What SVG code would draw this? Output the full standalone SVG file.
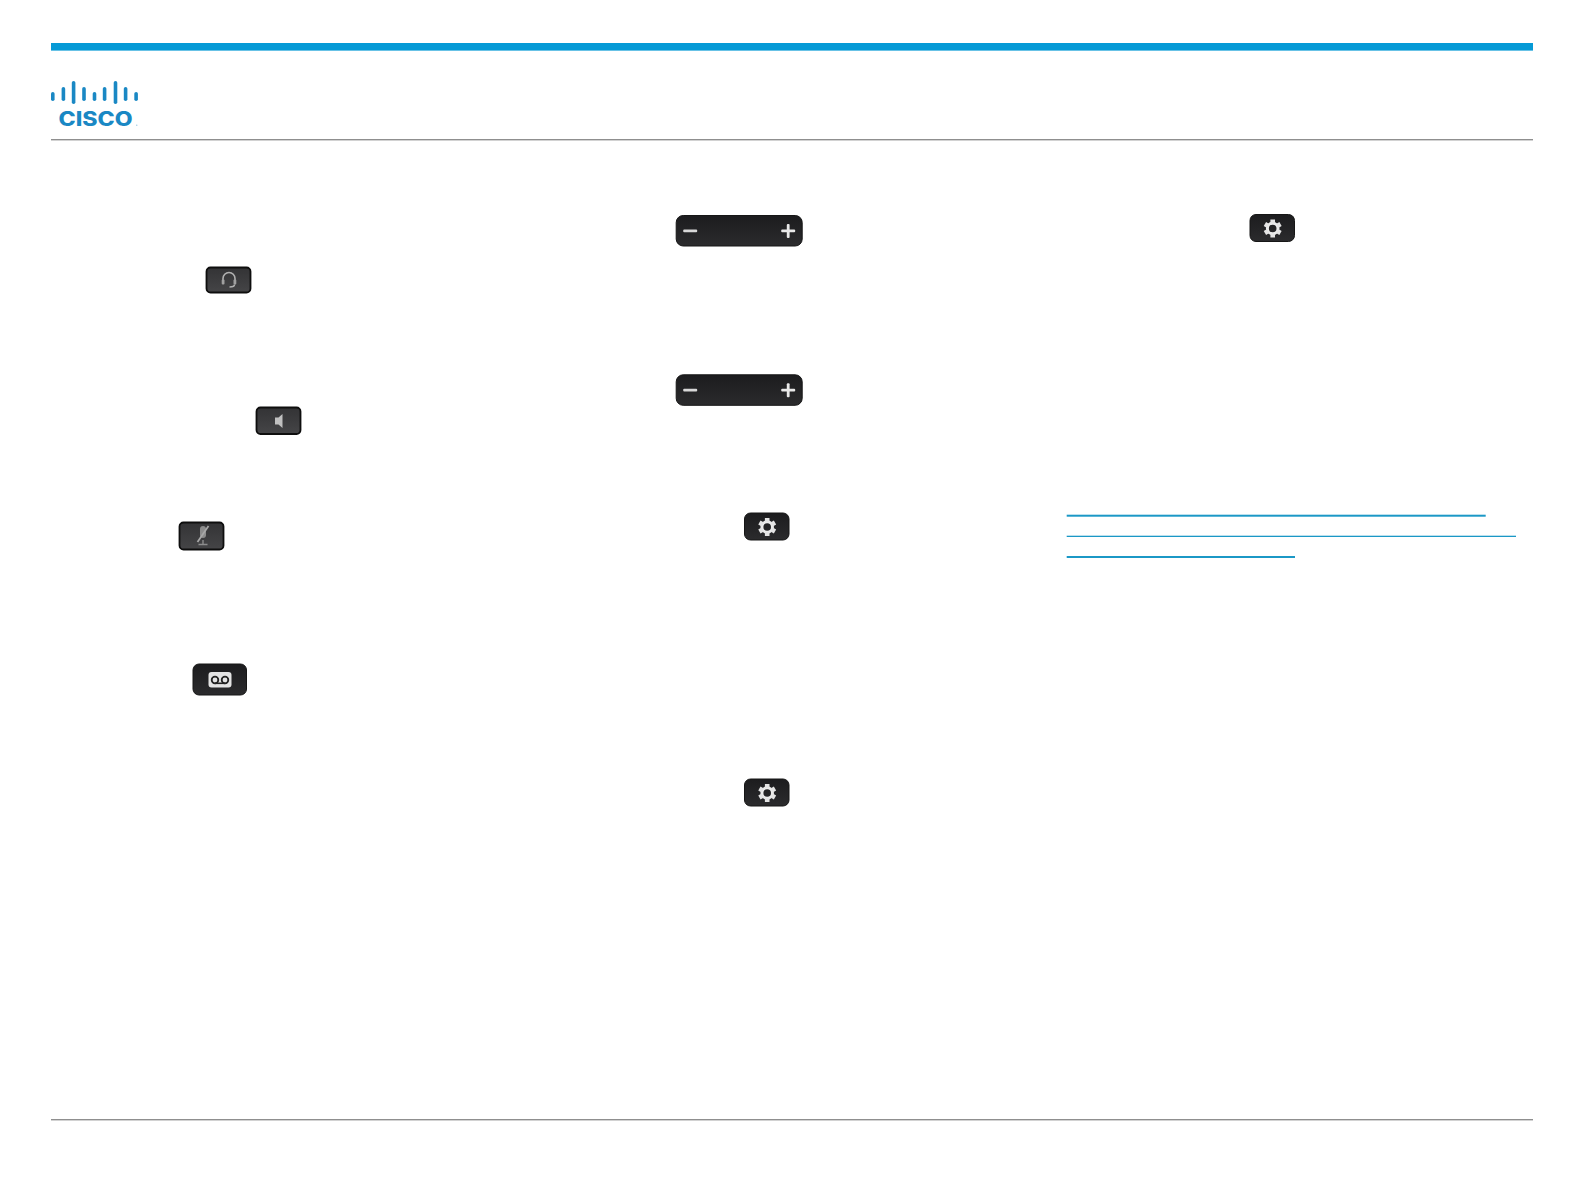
<svg xmlns="http://www.w3.org/2000/svg" width="1584" height="1191" viewBox="0 0 1584 1191">
<style>
.rule{fill:#8f8f8f}
.link{fill:#1b98c6}
.logo{fill:#1a88c4}
.key{fill:url(#keyfill);stroke:#0e0e0e;stroke-width:1.8}
.dark{fill:url(#darkfill);stroke:#161616;stroke-width:1}
.ico{fill:#e4e4e4}
.icog{fill:#a0a0a0}
.line{fill:none;stroke:#b0b0b0;stroke-width:1.6}
</style>
<defs>
<linearGradient id="keyfill" x1="0" y1="0" x2="0" y2="1">
<stop offset="0" stop-color="#333335"/><stop offset="1" stop-color="#454547"/>
</linearGradient>
<linearGradient id="darkfill" x1="0" y1="0" x2="0" y2="1">
<stop offset="0" stop-color="#1c1c1e"/><stop offset="1" stop-color="#2b2b2d"/>
</linearGradient>
<g id="gear">
<rect class="dark" x="0" y="0" width="44.500" height="27" rx="6"/>
<g transform="translate(22.700,14)">
<circle r="5.300" fill="none" stroke="#ececec" stroke-width="3"/>
<g class="ico">
<rect x="-2.300" y="-9" width="4.600" height="3.800"/>
<rect x="-2.300" y="-9" width="4.600" height="3.800" transform="rotate(60)"/>
<rect x="-2.300" y="-9" width="4.600" height="3.800" transform="rotate(120)"/>
<rect x="-2.300" y="-9" width="4.600" height="3.800" transform="rotate(180)"/>
<rect x="-2.300" y="-9" width="4.600" height="3.800" transform="rotate(240)"/>
<rect x="-2.300" y="-9" width="4.600" height="3.800" transform="rotate(300)"/>
</g>
</g>
</g>
<g id="vol">
<rect class="dark" x="0" y="0" width="126" height="30.500" rx="7"/>
<rect fill="#d8d8d8" x="7" y="14" width="14" height="2.800" rx="1"/>
<rect fill="#e8e8e8" x="105" y="14" width="14" height="2.800" rx="1"/>
<rect fill="#e8e8e8" x="110.600" y="8.400" width="2.800" height="14" rx="1"/>
</g>
</defs>
<g id="header">
<rect x="51" y="43" width="1482" height="7.600" fill="#069ad6"/>
<rect class="rule" x="51" y="139" width="1482" height="1.400"/>
</g>
<g id="logo" class="logo">
<rect x="51" y="92" width="3.600" height="9" rx="1.800"/>
<rect x="61.600" y="87" width="3.600" height="14" rx="1.800"/>
<rect x="71.800" y="81" width="3.600" height="23" rx="1.800"/>
<rect x="82.200" y="87" width="3.600" height="14" rx="1.800"/>
<rect x="92.700" y="92" width="3.600" height="9" rx="1.800"/>
<rect x="102.800" y="87" width="3.600" height="14" rx="1.800"/>
<rect x="113.700" y="81" width="3.600" height="23" rx="1.800"/>
<rect x="123.800" y="87" width="3.600" height="14" rx="1.800"/>
<rect x="134.300" y="92" width="3.600" height="9" rx="1.800"/>
<text x="58.500" y="126" font-family="Inter,'Open Sans','Liberation Sans',sans-serif" font-weight="800" font-size="19.500" textLength="74" lengthAdjust="spacingAndGlyphs">CISCO</text>
<circle cx="136.800" cy="125.200" r="0.600" fill="#7fb8d8"/>
</g>
<g id="key-headset">
<rect class="key" x="206.500" y="267.500" width="44" height="25" rx="4"/>
<path class="line" d="M223 283v-4.500a6 6 0 0 1 12 0v4.500"/>
<rect class="icog" x="221.700" y="279.500" width="2.800" height="5" rx="1"/>
<rect class="icog" x="233.500" y="279.500" width="2.800" height="5" rx="1"/>
<path class="line" d="M234.500 284.500c0 2-2 2.500-5 2.500"/>
</g>
<g id="key-speaker">
<rect class="key" x="256.500" y="407.500" width="44" height="26.500" rx="4"/>
<path fill="#c0c0c0" d="M275 417.500h3.500l4-3.500v14l-4-3.500H275z"/>
</g>
<g id="key-mute">
<rect class="key" x="179.500" y="522.500" width="44" height="27" rx="4"/>
<path fill="#8c8c8c" d="M200 529a3 3 0 0 1 6 0v6a3 3 0 0 1-6 0z"/>
<path d="M197.500 542l11-16" fill="none" stroke="#a8a8a8" stroke-width="1.800"/>
<path fill="none" stroke="#8c8c8c" stroke-width="1.400" d="M203 540v4M198.500 544.500h9"/>
</g>
<g id="key-voicemail">
<rect class="dark" x="193" y="664" width="53.500" height="31" rx="6"/>
<rect class="ico" x="208.500" y="672" width="23" height="15.500" rx="3"/>
<circle cx="215" cy="680" r="3.300" fill="none" stroke="#222" stroke-width="1.800"/>
<circle cx="225" cy="680" r="3.300" fill="none" stroke="#222" stroke-width="1.800"/>
<path d="M215 683.300h10" stroke="#222" stroke-width="1.600"/>
</g>
<g id="key-volume-1"><use href="#vol" x="676.200" y="215.500"/></g>
<g id="key-volume-2"><use href="#vol" x="676.200" y="374.800"/></g>
<g id="key-settings-1"><use href="#gear" x="1250" y="214.500"/></g>
<g id="key-settings-2"><use href="#gear" x="744.500" y="513"/></g>
<g id="key-settings-3"><use href="#gear" x="744.500" y="779"/></g>
<g id="links">
<rect class="link" x="1066.700" y="514.700" width="419" height="2"/>
<rect class="link" x="1066.700" y="535.700" width="449.300" height="1.300"/>
<rect class="link" x="1066.700" y="556" width="228.300" height="2"/>
</g>
<g id="footer"><rect class="rule" x="51" y="1119" width="1482" height="1.400"/></g>
</svg>
